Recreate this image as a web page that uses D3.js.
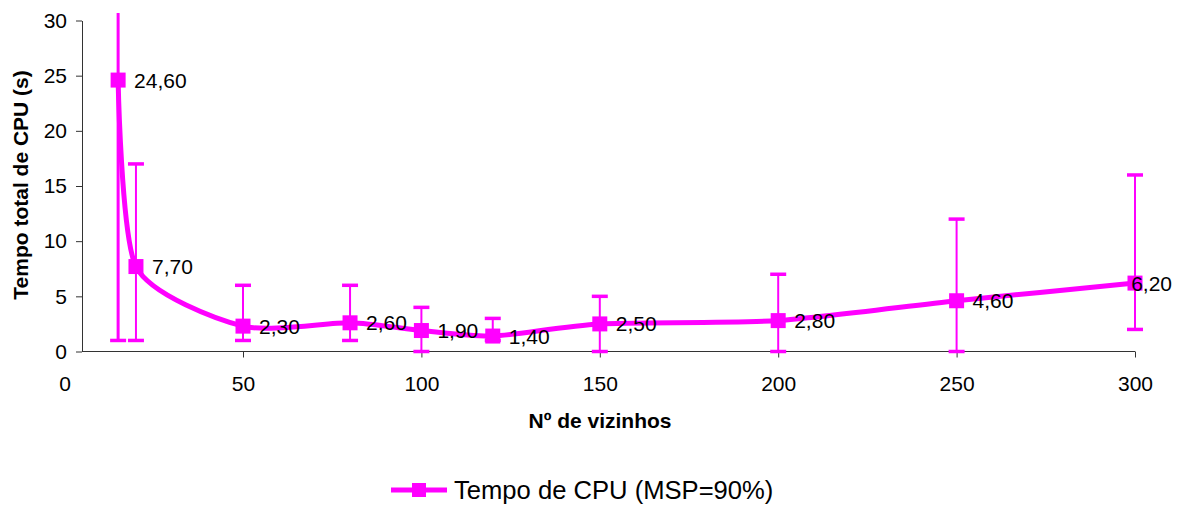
<!DOCTYPE html>
<html><head><meta charset="utf-8">
<script src="https://cdn.jsdelivr.net/npm/d3@7"></script>
<style>
body{margin:0;background:#fff;}
svg{display:block;font-family:"Liberation Sans",Arial,sans-serif;}
</style></head>
<body><svg id="c" width="1181" height="506"></svg>
<script>
const xValues = [15, 20, 50, 80, 100, 120, 150, 200, 250, 300];
const cpuTime = [24.6, 7.7, 2.3, 2.6, 1.9, 1.4, 2.5, 2.8, 4.6, 6.2];
const errLow = [1, 1, 1, 1, 0, 1, 0, 0, 0, 2];
const errHigh = [50, 17, 6, 6, 4, 3, 5, 7, 12, 16];
const labels = ["24,60", "7,70", "2,30", "2,60", "1,90", "1,40", "2,50", "2,80", "4,60", "6,20"];
const xTicks = [0, 50, 100, 150, 200, 250, 300];
const yTicks = [0, 5, 10, 15, 20, 25, 30];
const seriesName = "Tempo de CPU (MSP=90%)";
const xTitle = "Nº de vizinhos";
const yTitle = "Tempo total de CPU (s)";

const color = "#FF00FF";
const svg = d3.select("#c");
const x = d3.scaleLinear().domain([0, 300]).range([64.6, 1135]);
const y = d3.scaleLinear().domain([0, 30]).range([351.5, 20.5]);
const axisLeftX = 82;

// y axis
const ya = svg.append("g").attr("transform", `translate(${axisLeftX},0)`)
  .call(d3.axisLeft(y).tickValues(yTicks).tickSize(6).tickSizeOuter(0).tickPadding(9));
ya.select(".domain").attr("stroke", "#333");
ya.selectAll(".tick line").attr("stroke", "#333");
ya.selectAll(".tick text").attr("font-size", 21).attr("fill", "#000")
  .attr("font-family", "Liberation Sans, Arial, sans-serif");

// x axis
const xa = svg.append("g").attr("transform", `translate(0,${y(0)})`)
  .call(d3.axisBottom(x).tickValues(xTicks).tickSize(6).tickSizeOuter(0).tickFormat(d3.format("d")));
xa.select(".domain").remove();
xa.selectAll(".tick line").attr("stroke", "#333").attr("display", d => d === 0 ? "none" : null);
xa.selectAll(".tick text").attr("font-size", 21).attr("fill", "#000")
  .attr("y", 39).attr("dy", 0)
  .attr("font-family", "Liberation Sans, Arial, sans-serif");
svg.append("line").attr("x1", axisLeftX).attr("x2", x(300)).attr("y1", y(0)).attr("y2", y(0))
  .attr("stroke", "#333");

// titles
svg.append("text").attr("x", 600).attr("y", 428).attr("text-anchor", "middle")
  .attr("font-weight", "bold").attr("font-size", 21).text(xTitle);
svg.append("text").attr("transform", "translate(27.5,185) rotate(-90)").attr("text-anchor", "middle")
  .attr("font-weight", "bold").attr("font-size", 21).text(yTitle);

// clip
svg.append("defs").append("clipPath").attr("id", "plotclip")
  .append("rect").attr("x", 0).attr("y", 13).attr("width", 1181).attr("height", 400);

const data = xValues.map((v, i) => ({x: v, y: cpuTime[i], lo: errLow[i], hi: errHigh[i], label: labels[i]}));

// error bars
const eb = svg.append("g").attr("clip-path", "url(#plotclip)");
data.forEach((d, i) => {
  eb.append("line").attr("x1", x(d.x)).attr("x2", x(d.x)).attr("y1", y(d.lo)).attr("y2", y(d.hi))
    .attr("stroke", color).attr("stroke-width", i === 0 ? 3 : 2);
  [d.lo, d.hi].forEach(v => {
    eb.append("line").attr("x1", x(d.x) - 8).attr("x2", x(d.x) + 8).attr("y1", y(v)).attr("y2", y(v))
      .attr("stroke", color).attr("stroke-width", 3.5);
  });
});

// line
const line = d3.line().x(d => x(d.x)).y(d => y(d.y)).curve(d3.curveCardinal.tension(0.3));
svg.append("path").datum(data).attr("d", line).attr("fill", "none")
  .attr("stroke", color).attr("stroke-width", 5);

// markers
svg.append("g").selectAll("rect").data(data).join("rect")
  .attr("x", d => x(d.x) - 7.5).attr("y", d => y(d.y) - 7.5)
  .attr("width", 15).attr("height", 15).attr("fill", color);

// labels
const lg = svg.append("g");
data.forEach(d => {
  const t = lg.append("text").attr("x", x(d.x) + 16).attr("y", y(d.y)).attr("dy", "0.36em")
    .attr("font-size", 21).attr("fill", "#000").text(d.label);
  const w = t.node().getComputedTextLength();
  if (x(d.x) + 16 + w > 1172) t.attr("x", 1172 - w);
});

// legend
const leg = svg.append("g");
leg.append("line").attr("x1", 391).attr("x2", 447).attr("y1", 490).attr("y2", 490)
  .attr("stroke", color).attr("stroke-width", 5);
leg.append("rect").attr("x", 412).attr("y", 483).attr("width", 14).attr("height", 14).attr("fill", color);
leg.append("text").attr("x", 454).attr("y", 490).attr("dy", "0.36em").attr("font-size", 25.6)
  .attr("fill", "#000").text(seriesName);
</script></body></html>
